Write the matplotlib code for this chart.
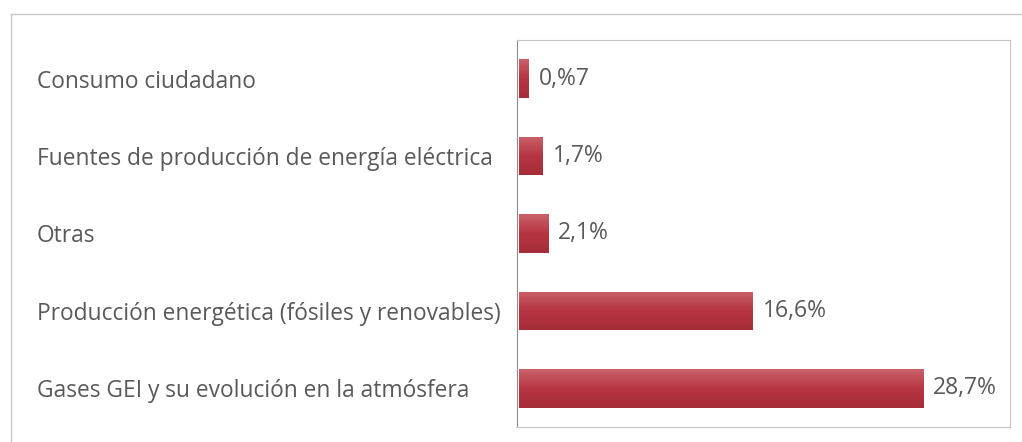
import numpy as np
import matplotlib.pyplot as plt
from matplotlib.lines import Line2D

plt.rcParams['font.family'] = ['Open Sans', 'DejaVu Sans']

categories = [
    "Consumo ciudadano",
    "Fuentes de producción de energía eléctrica",
    "Otras",
    "Producción energética (fósiles y renovables)",
    "Gases GEI y su evolución en la atmósfera",
]
values = [0.7, 1.7, 2.1, 16.6, 28.7]
value_labels = ["0,%7", "1,7%", "2,1%", "16,6%", "28,7%"]

TEXT = "#595959"

fig = plt.figure(figsize=(10.22, 4.42), dpi=100)
ax = fig.add_axes([517 / 1022, 15 / 442, 493 / 1022, 387 / 442])

ypos = np.arange(len(categories))
bars = ax.barh(ypos, values, height=0.5, color="#b3303d", left=0.12, zorder=2)

# vertical gradient on every bar, lighter on top
grad = np.linspace(0, 1, 64).reshape(-1, 1)
cmap = plt.matplotlib.colors.LinearSegmentedColormap.from_list(
    "bar", ["#a52d38", "#b73542", "#c9616b"])
for b in bars:
    x0, y0 = b.get_x(), b.get_y()
    w, h = b.get_width(), b.get_height()
    im = ax.imshow(grad, extent=[x0, x0 + w, y0 + h, y0], aspect="auto",
                   cmap=cmap, zorder=3, origin="lower")
    im.set_clip_path(b)

for b, lab in zip(bars, value_labels):
    ax.annotate(lab, (b.get_x() + b.get_width(), b.get_y() + b.get_height() / 2),
                xytext=(10, 0), textcoords="offset pixels", va="center",
                ha="left", fontsize=16.5, color=TEXT)

ax.set_xlim(0, 35)
ax.set_ylim(len(categories) - 0.5, -0.5)
ax.set_xticks([])
ax.set_yticks(ypos)
ax.set_yticklabels(categories, ha="left", fontsize=16.4, color=TEXT)
ax.tick_params(axis="y", length=0, pad=480 * 72 / 100)

for s in ["top", "right", "bottom"]:
    ax.spines[s].set_color("#c4c4c4")
ax.spines["left"].set_color("#8c8c8c")

# outer frame (only top and left are visible in the crop)
fig.add_artist(Line2D([11 / 1022, 1], [1 - 14 / 442, 1 - 14 / 442],
                      transform=fig.transFigure, color="#c8c8c8", lw=1))
fig.add_artist(Line2D([11 / 1022, 11 / 1022], [0, 1 - 14 / 442],
                      transform=fig.transFigure, color="#c8c8c8", lw=1))

fig.savefig("out.png", dpi=100)
